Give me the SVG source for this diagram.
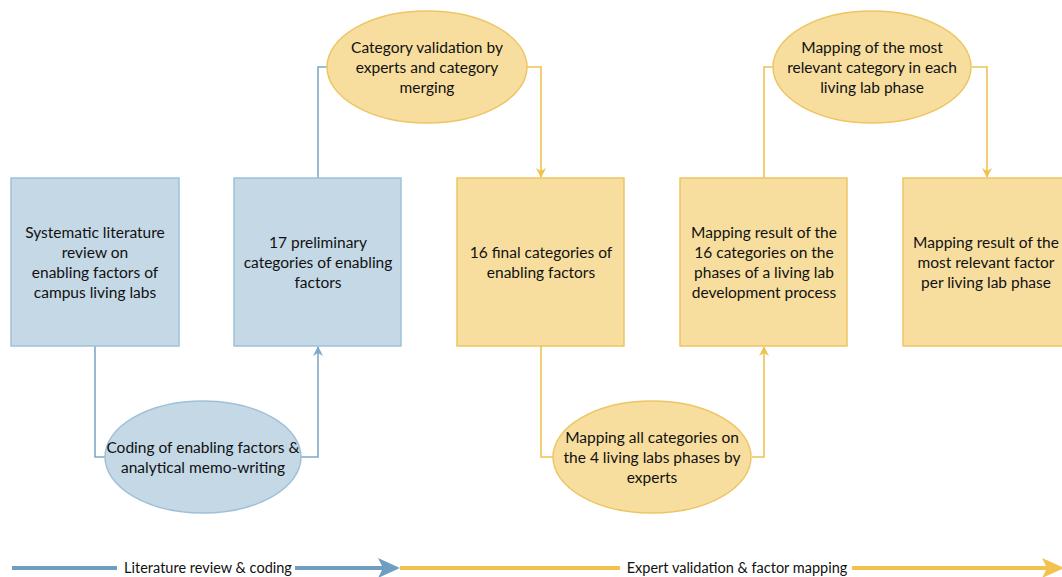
<svg xmlns="http://www.w3.org/2000/svg" width="1062" height="577" viewBox="0 0 1062 577">
<style>
.b{fill:#c4d8e6;stroke:#9fc0d8;stroke-width:1.5}
.y{fill:#f7de9e;stroke:#eec564;stroke-width:1.5}
text{font-family:Lato,"Open Sans","Liberation Sans",sans-serif;font-size:15.5px;fill:#111;text-anchor:middle;dominant-baseline:central}
.t{font-size:14.5px}
.cb{fill:none;stroke:#7fa9c9;stroke-width:1.6}
.cy{fill:none;stroke:#f0c24f;stroke-width:1.6}
</style>
<defs>
<marker id="ab" viewBox="0 0 10 10" refX="9" refY="5" markerWidth="10" markerHeight="10" markerUnits="userSpaceOnUse" orient="auto"><path d="M0,0 L10,5 L0,10 L3,5 Z" fill="#7fa9c9"/></marker>
<marker id="ay" viewBox="0 0 10 10" refX="9" refY="5" markerWidth="10" markerHeight="10" markerUnits="userSpaceOnUse" orient="auto"><path d="M0,0 L10,5 L0,10 L3,5 Z" fill="#f0c24f"/></marker>
</defs>
<g id="connectors">
<path class="cb" d="M318,178 V67 H328"/>
<path class="cy" d="M527,67 H541 V177" marker-end="url(#ay)"/>
<path class="cb" d="M95,346 V457 H105"/>
<path class="cb" d="M301,457 H318 V347" marker-end="url(#ab)"/>
<path class="cy" d="M541,346 V457 H553"/>
<path class="cy" d="M752,457 H764 V347" marker-end="url(#ay)"/>
<path class="cy" d="M764,178 V67 H773"/>
<path class="cy" d="M972,67 H987 V177" marker-end="url(#ay)"/>
</g>
<g id="box1"><rect class="b" x="11" y="178" width="168" height="168"/>
<text x="95" y="232">Systematic literature</text><text x="95" y="252">review on</text><text x="95" y="272">enabling factors of</text><text x="95" y="292">campus living labs</text></g>
<g id="box2"><rect class="b" x="234" y="178" width="167" height="168"/>
<text x="318" y="242">17 preliminary</text><text x="318" y="262">categories of enabling</text><text x="318" y="282">factors</text></g>
<g id="box3"><rect class="y" x="457" y="178" width="167" height="168"/>
<text x="541" y="252">16 final categories of</text><text x="541" y="272">enabling factors</text></g>
<g id="box4"><rect class="y" x="680" y="178" width="167" height="168"/>
<text x="764" y="232">Mapping result of the</text><text x="764" y="252">16 categories on the</text><text x="764" y="272">phases of a living lab</text><text x="764" y="292">development process</text></g>
<g id="box5"><rect class="y" x="903" y="178" width="167" height="168"/>
<text x="986" y="242">Mapping result of the</text><text x="986" y="262">most relevant factor</text><text x="986" y="282">per living lab phase</text></g>
<g id="ell1"><ellipse class="y" cx="427" cy="67" rx="100" ry="56"/>
<text x="427" y="47">Category validation by</text><text x="427" y="67">experts and category</text><text x="427" y="87">merging</text></g>
<g id="ell2"><ellipse class="b" cx="203" cy="457" rx="98" ry="56"/>
<text x="203" y="447">Coding of enabling factors &amp;</text><text x="203" y="467">analytical memo-writing</text></g>
<g id="ell3"><ellipse class="y" cx="652" cy="457" rx="99" ry="56"/>
<text x="652" y="437">Mapping all categories on</text><text x="652" y="457">the 4 living labs phases by</text><text x="652" y="477">experts</text></g>
<g id="ell4"><ellipse class="y" cx="872" cy="67" rx="99" ry="56"/>
<text x="872" y="47">Mapping of the most</text><text x="872" y="67">relevant category in each</text><text x="872" y="87">living lab phase</text></g>
<g id="timeline">
<path d="M12,568 H117 M295,568 H385" stroke="#6f9ec0" stroke-width="4" fill="none"/>
<path d="M378,558 L400,568 L378,578 L383,568 Z" fill="#6f9ec0"/>
<path d="M400,568 H620 M852,568 H1048" stroke="#f2c14e" stroke-width="4" fill="none"/>
<path d="M1042,558 L1064,568 L1042,578 L1047,568 Z" fill="#f2c14e"/>
<text class="t" x="208" y="567">Literature review &amp; coding</text>
<text class="t" x="737" y="567">Expert validation &amp; factor mapping</text>
</g>
</svg>
